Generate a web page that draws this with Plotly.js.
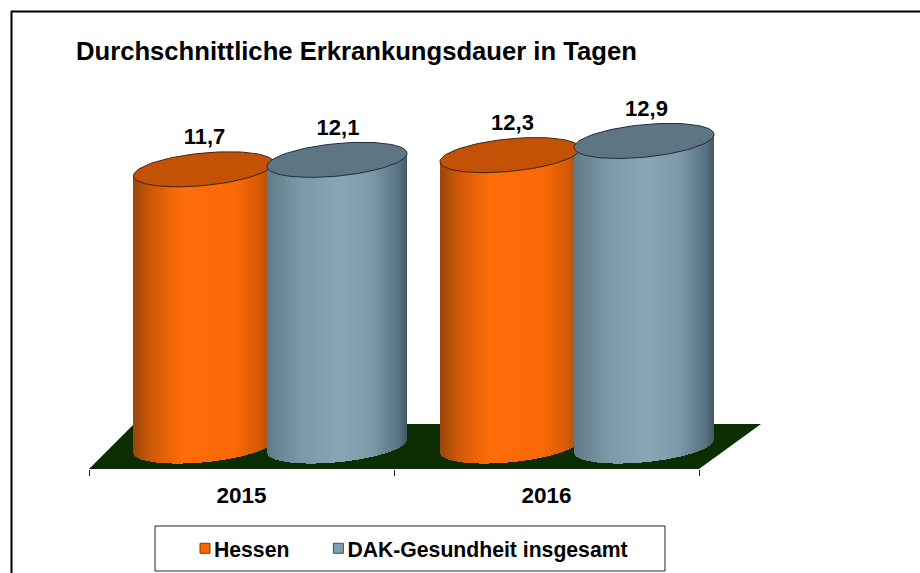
<!DOCTYPE html>
<html><head><meta charset="utf-8">
<script src="https://cdn.plot.ly/plotly-3.0.1.min.js"></script>
<style>html,body{margin:0;padding:0;background:#fff}#c{width:920px;height:573px}</style>
</head><body><div id="c"></div>
<script>
var years = ['2015', '2016'];
var seriesNames = ['Hessen', 'DAK-Gesundheit insgesamt'];
var hessen = [11.7, 12.3];
var dak = [12.1, 12.9];
var chartTitle = 'Durchschnittliche Erkrankungsdauer in Tagen';

var W = 920, H = 573, plotBottom = 469, baseline = 446, unitPx = 23.65, catPx = 305, axisLeft = 89;
var xv = function (px) { return (px - axisLeft) / catPx; };
var yv = function (py) { return (baseline - py) / unitPx; };
var py = function (p) { return (plotBottom - p) / plotBottom; };
var halfW = 70, tilt = 6.5, minor = 16.3;
var font = 'Liberation Sans, Arial, sans-serif';

var looks = [
  { centers: [203.5, 510], top: '#c35206', edge: '#3b2410', legend: '#ff6600', legendLine: '#7a3a08',
    ramp: [[-1, [150, 70, 12]], [-0.75, [205, 88, 6]], [-0.3, [255, 108, 10]], [0.45, [252, 106, 8]], [0.8, [215, 90, 4]], [1, [165, 76, 10]]] },
  { centers: [337, 644], top: '#5e7683', edge: '#1f2d38', legend: '#7f9fb0', legendLine: '#3d4f5a',
    ramp: [[-1, [98, 122, 136]], [-0.5, [122, 154, 170]], [0.05, [135, 167, 183]], [0.5, [122, 154, 170]], [0.88, [88, 114, 129]], [1, [66, 88, 104]]] }
];
var labelNudge = [1, 2.5];
var values = [hessen, dak];

function shade(ramp, u) {
  for (var i = 1; i < ramp.length; i++) {
    if (u <= ramp[i][0]) {
      var t = (u - ramp[i - 1][0]) / (ramp[i][0] - ramp[i - 1][0]);
      var c = ramp[i - 1][1].map(function (a, j) { return Math.round(a + (ramp[i][1][j] - a) * t); });
      return 'rgb(' + c.join(',') + ')';
    }
  }
  return 'rgb(' + ramp[ramp.length - 1][1].join(',') + ')';
}

var traces = [];
var labelX = [], labelY = [], labelT = [];
values.forEach(function (vals, s) {
  var look = looks[s];
  var bx = [], by = [], bb = [], bc = [];
  vals.forEach(function (v, g) {
    var cx = look.centers[g];
    for (var px = -halfW; px < halfW; px++) {
      var u = (px + 0.5) / halfW;
      var low = (tilt * u - minor * Math.sqrt(1 - u * u)) / unitPx;
      var mid = tilt * u / unitPx;
      bx.push(xv(cx + px + 0.5));
      bb.push(low);
      by.push(v + mid - low);
      bc.push(shade(look.ramp, u));
    }
  });
  traces.push({ type: 'bar', x: bx, y: by, base: bb, width: 1.15 / catPx, showlegend: false, hoverinfo: 'skip',
    marker: { color: bc, line: { width: 0 } } });
});
values.forEach(function (vals, s) {
  var look = looks[s];
  vals.forEach(function (v, g) {
    var cx = look.centers[g];
    var ex = [], ey = [];
    for (var d = 0; d <= 360; d += 4) {
      var t = d * Math.PI / 180;
      ex.push(xv(cx + halfW * Math.cos(t)));
      ey.push(v + (tilt * Math.cos(t) + minor * Math.sin(t)) / unitPx);
    }
    traces.push({ type: 'scatter', mode: 'lines', x: ex, y: ey, fill: 'toself', fillcolor: look.top,
      line: { color: look.edge, width: 1 }, showlegend: false, hoverinfo: 'skip' });
    labelX.push(xv(cx + labelNudge[g]));
    labelY.push(v + 30.5 / unitPx);
    labelT.push(v.toFixed(1).replace('.', ','));
  });
});
traces.push({ type: 'scatter', mode: 'text', x: labelX, y: labelY, text: labelT, textposition: 'middle center',
  textfont: { family: font, size: 22, color: '#000', weight: 700 }, showlegend: false, hoverinfo: 'skip' });
traces.push({ type: 'scatter', mode: 'lines', x: [0, 2], y: [yv(plotBottom), yv(plotBottom)], line: { color: '#222', width: 1 },
  showlegend: false, hoverinfo: 'skip' });
seriesNames.forEach(function (n, s) {
  traces.push({ type: 'scatter', mode: 'markers', name: n, x: [null], y: [null],
    marker: { symbol: 'square', size: 10, angle: 90, standoff: 17.5, color: looks[s].legend, line: { color: looks[s].legendLine, width: 1 } } });
});

var floor = 'M ' + xv(89) + ' ' + yv(469) + ' L ' + xv(134) + ' ' + yv(424) + ' L ' + xv(761) + ' ' + yv(424) + ' L ' + xv(699) + ' ' + yv(469) + ' Z';

var layout = {
  width: W, height: H, paper_bgcolor: '#fff', plot_bgcolor: 'rgba(0,0,0,0)',
  margin: { l: 0, r: 0, t: 0, b: H - plotBottom, pad: 0 },
  barmode: 'overlay', bargap: 0,
  title: { text: chartTitle, xref: 'paper', x: 76 / W, xanchor: 'left', yref: 'container', y: 1 - 51.5 / H, yanchor: 'middle',
    font: { family: font, size: 25.65, color: '#000', weight: 700 } },
  xaxis: { range: [xv(0), xv(W)], showgrid: false, zeroline: false, showline: false,
    tickmode: 'array', tickvals: [0.5, 1.5], ticktext: years, ticks: '', ticklabelstandoff: 10,
    tickfont: { family: font, size: 22.5, color: '#000', weight: 700 },
    minor: { tickmode: 'array', tickvals: [0, 1, 2], ticks: 'outside', ticklen: 6, tickcolor: '#222', tickwidth: 1, showgrid: false } },
  yaxis: { range: [yv(plotBottom), yv(0)], visible: false, fixedrange: true },
  separators: ',.',
  legend: { orientation: 'h', x: 161 / W, xanchor: 'left', y: py(548.5), yanchor: 'middle', bgcolor: 'rgba(0,0,0,0)',
    font: { family: font, size: 21.2, color: '#000', weight: 700 }, itemwidth: 43, traceorder: 'normal' },
  shapes: [
    { type: 'path', path: floor, xref: 'x', yref: 'y', layer: 'below', fillcolor: '#0a2e00', line: { width: 0 } },
    { type: 'line', xref: 'paper', yref: 'paper', x0: 11 / W, x1: 1, y0: py(11.5), y1: py(11.5), line: { color: '#000', width: 2 } },
    { type: 'line', xref: 'paper', yref: 'paper', x0: 11.5 / W, x1: 11.5 / W, y0: py(11), y1: py(H), line: { color: '#000', width: 2 } },
    { type: 'rect', xref: 'paper', yref: 'paper', x0: 155 / W, x1: 665 / W, y0: py(526), y1: py(571), line: { color: '#222', width: 1 }, fillcolor: 'rgba(0,0,0,0)' }
  ],
  hovermode: false
};
Plotly.newPlot('c', traces, layout, { displayModeBar: false, staticPlot: true });
</script></body></html>
